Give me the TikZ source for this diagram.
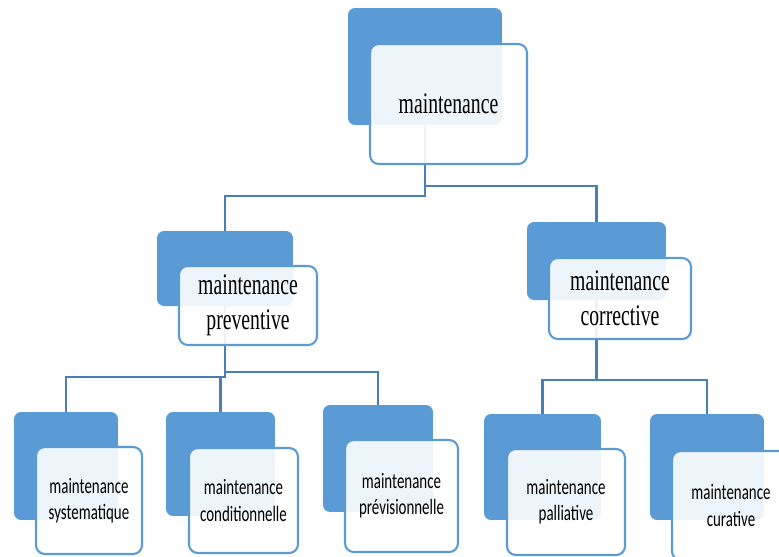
\documentclass[tikz,border=0pt]{standalone}
\usepackage{fontspec}
\setmainfont{Liberation Serif}
\newfontfamily\headfont[FakeStretch=0.66]{Liberation Serif}
\newfontfamily\leaffont[FakeStretch=0.68]{Carlito}
\usetikzlibrary{backgrounds}
\definecolor{boxblue}{HTML}{5B9BD5}
\definecolor{lineblue}{HTML}{4A7EBB}
\tikzset{
    back/.style =   {rectangle,
                    rounded corners=4pt,
                    fill=boxblue,
                    draw=none},
    front/.style =  {rectangle,
                    rounded corners=5pt,
                    fill=white,
                    fill opacity=0.9,
                    text opacity=1,
                    draw=boxblue,
                    line width=1.2pt,
                    text=black,
                    align=center,
                    inner sep=0pt},
    head/.style =   {front,
                    font=\headfont\fontsize{17}{20}\selectfont},
    leaf/.style =   {front,
                    font=\leaffont\fontsize{12.5}{15}\selectfont},
    link/.style =   {draw=lineblue,
                    line width=1.2pt}}

\begin{document}
\begin{tikzpicture}[x=0.02cm,y=-0.02cm]
    \useasboundingbox (0,0) rectangle (779,556);
    % back boxes
    \node[back, minimum width=3.08cm, minimum height=2.34cm] (rootb) at (425,66.5)  {};
    \node[back, minimum width=2.72cm, minimum height=1.50cm] (pvb)   at (225,268.5) {};
    \node[back, minimum width=2.78cm, minimum height=1.56cm] (cvb)   at (596.5,261) {};
    \node[back, minimum width=2.08cm, minimum height=2.16cm] (b1b)   at (66,466)    {};
    \node[back, minimum width=2.18cm, minimum height=2.08cm] (b2b)   at (220.5,464) {};
    \node[back, minimum width=2.20cm, minimum height=2.14cm] (b3b)   at (378,458.5) {};
    \node[back, minimum width=2.34cm, minimum height=2.12cm] (b4b)   at (542.5,467) {};
    \node[back, minimum width=2.28cm, minimum height=2.12cm] (b5b)   at (707,467)   {};
    % front boxes
    \node[head, minimum width=3.14cm, minimum height=2.40cm] (root) at (448.5,104) {maintenance};
    \node[head, minimum width=2.76cm, minimum height=1.58cm] (pv)   at (248,305.5) {maintenance\\preventive};
    \node[head, minimum width=2.84cm, minimum height=1.62cm] (cv)   at (620,298.5) {maintenance\\corrective};
    \node[leaf, minimum width=2.12cm, minimum height=2.14cm] (b1)   at (89,500.5)  {maintenance\\systematique};
    \node[leaf, minimum width=2.18cm, minimum height=2.10cm] (b2)   at (243.5,500.5) {maintenance\\conditionnelle};
    \node[leaf, minimum width=2.26cm, minimum height=2.24cm] (b3)   at (401.5,496) {maintenance\\prévisionnelle};
    \node[leaf, minimum width=2.36cm, minimum height=2.12cm] (b4)   at (566,502)   {maintenance\\palliative};
    \node[leaf, minimum width=2.36cm, minimum height=2.18cm] (b5)   at (731,505.5) {maintenance\\curative};
    % connectors
    \begin{pgfonlayer}{background}
        \draw[link] (rootb.south) -- ++(0,71) -| (pvb.north);
        \draw[link] (rootb.south) -- ++(0,61) -| (cvb.north);
        \draw[link] (pvb.south) -- ++(0,71) -| (b1b.north);
        \draw[link] (pvb.south) -- ++(0,71) -| (b2b.north);
        \draw[link] (pvb.south) -- ++(0,66) -| (b3b.north);
        \draw[link] (cvb.south) -- ++(0,80) -| (b4b.north);
        \draw[link] (cvb.south) -- ++(0,80) -| (b5b.north);
    \end{pgfonlayer}
\end{tikzpicture}
\end{document}
